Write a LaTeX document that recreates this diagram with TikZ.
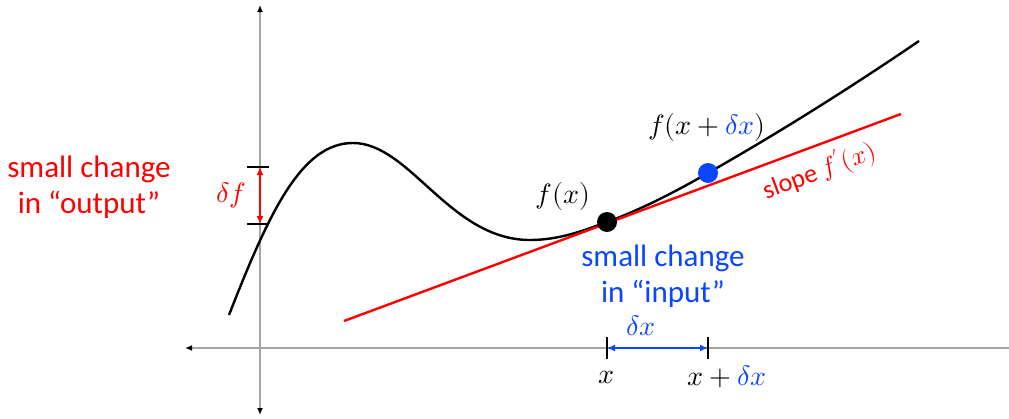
\documentclass[tikz,border=0pt]{standalone}
\usepackage{fontspec}
\usepackage{unicode-math}
\setmainfont{Carlito}
\setmathfont{Latin Modern Math}
\usetikzlibrary{arrows.meta}
\definecolor{myred}{RGB}{255,0,0}
\definecolor{myblue}{RGB}{10,70,255}
\definecolor{axgray}{RGB}{165,165,165}
\begin{document}
\begin{tikzpicture}[x=1pt,y=-1pt,
  axis/.style={draw=axgray, line width=1.4pt},
  axtip/.tip={Latex[length=7pt,width=6pt,color=black]},
  ticks/.style={draw=black, line width=1.4pt},
  curve/.style={draw=black, line width=2.4pt},
  tangent/.style={draw=myred, line width=2.4pt},
  txt/.style={font=\fontsize{31}{36}\selectfont, align=center, inner sep=0pt},
  mth/.style={font=\fontsize{28}{32}\selectfont, inner sep=0pt},
  dot/.style={circle, minimum size=20pt, inner sep=0pt}]
\useasboundingbox (0,0) rectangle (1009,418);
% axes
\coordinate (xl) at (185,348);
\coordinate (xr) at (1009,348);
\coordinate (yt) at (260,5);
\coordinate (yb) at (260,415);
\draw[axis,-axtip] (xr) -- (xl);
\draw[axis,axtip-axtip] (yb) -- (yt);
% curve
\coordinate (c0) at (229,315);
\coordinate (c1) at (353,143);
\coordinate (c2) at (530,240);
\coordinate (c4) at (919,41);
\draw[curve] (c0) .. controls (270,210) and (302,143) .. (c1)
  .. controls (410,143) and (450,240) .. (c2)
  .. controls (560,240) and (585,230) .. (607,222)
  .. controls (640,210) and (675,192) .. (708,173)
  .. controls (780,132) and (850,88) .. (c4);
% tangent line
\coordinate (tA) at (344,321);
\coordinate (tB) at (901,114);
\draw[tangent] (tA) -- (tB);
% delta f
\coordinate (f1l) at (247,167); \coordinate (f1r) at (269,167);
\coordinate (f2l) at (247,224); \coordinate (f2r) at (269,224);
\coordinate (f1) at (260,167); \coordinate (f2) at (260,224);
\draw[ticks] (f1l) -- (f1r);
\draw[ticks] (f2l) -- (f2r);
\draw[myred, line width=2pt, {Latex[length=8pt,width=7pt]}-{Latex[length=8pt,width=7pt]}] (f1) -- (f2);
\node[mth, text=myred] (df) at (231,195) {$\delta f$};
% delta x
\coordinate (x1t) at (607,337); \coordinate (x1b) at (607,359);
\coordinate (x2t) at (708,337); \coordinate (x2b) at (708,359);
\coordinate (x1) at (607,348); \coordinate (x2) at (708,348);
\draw[ticks] (x1t) -- (x1b);
\draw[ticks] (x2t) -- (x2b);
\draw[myblue, line width=2pt, {Latex[length=8pt,width=7pt]}-{Latex[length=8pt,width=7pt]}] (x1) -- (x2);
\node[mth, text=myblue] (dx) at (641,326) {$\delta x$};
\node[mth] (xa) at (606,377) {$x$};
\node[mth] (xb) at (727,377) {$x+{\color{myblue}\delta x}$};
% dots
\node[dot, fill=black] (p) at (607,222) {};
\node[dot, fill=myblue] (q) at (708,173) {};
\node[mth] (fx) at (563,196) {$f(x)$};
\node[mth] (fxdx) at (707,127) {$f(x+{\color{myblue}\delta x})$};
% slope
\node[text=myred, rotate=20.4, font=\fontsize{26}{30}\selectfont, inner sep=0pt] (sl) at (819,171) {slope $f'(x)$};
% texts
\node[txt, text=myred] (out) at (89,187) {small change\\in “output”};
\node[txt, text=myblue] (inp) at (663,276) {small change\\in “input”};
\end{tikzpicture}
\end{document}
